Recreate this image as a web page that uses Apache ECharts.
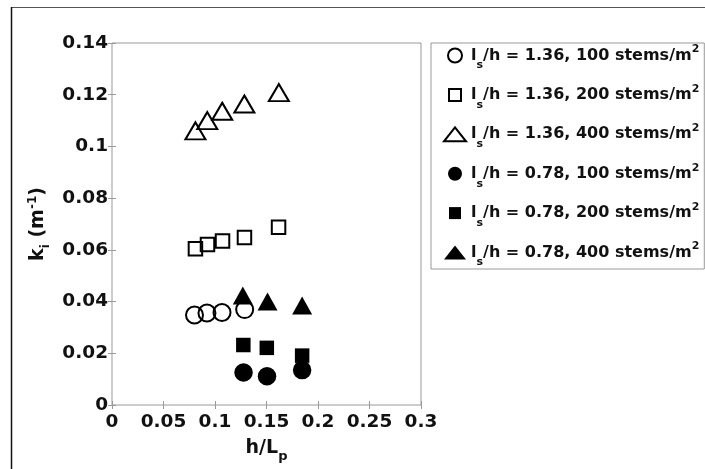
<!DOCTYPE html>
<html>
<head>
<meta charset="utf-8">
<script src="https://cdn.jsdelivr.net/npm/echarts@6/dist/echarts.min.js"></script>
<style>
  html, body { margin: 0; padding: 0; background: #fff; }
  #chart { width: 705px; height: 469px; }
</style>
</head>
<body>
<div id="chart"></div>
<script>
// Attenuation coefficient k_i versus relative depth h/L_p
const xTicks = [0, 0.05, 0.1, 0.15, 0.2, 0.25, 0.3];
const yTicks = [0, 0.02, 0.04, 0.06, 0.08, 0.1, 0.12, 0.14];

// l_s/h = 1.36
const hLp_136_100 = [0.0801, 0.0922, 0.1068, 0.1288];
const ki_136_100  = [0.0348, 0.0356, 0.0358, 0.0369];
const hLp_136_200 = [0.0810, 0.0927, 0.1073, 0.1286, 0.1617];
const ki_136_200  = [0.0604, 0.0621, 0.0634, 0.0648, 0.0687];
const hLp_136_400 = [0.0810, 0.0925, 0.1070, 0.1285, 0.1620];
const ki_136_400  = [0.1060, 0.1100, 0.1136, 0.1164, 0.1208];
// l_s/h = 0.78
const hLp_078_100 = [0.1277, 0.1505, 0.1846];
const ki_078_100  = [0.0126, 0.0111, 0.0135];
const hLp_078_200 = [0.1275, 0.1503, 0.1846];
const ki_078_200  = [0.0232, 0.0221, 0.0191];
const hLp_078_400 = [0.1270, 0.1510, 0.1846];
const ki_078_400  = [0.0423, 0.0400, 0.0385];

const spacingRatios = ['1.36', '1.36', '1.36', '0.78', '0.78', '0.78'];
const stemDensities = ['100', '200', '400', '100', '200', '400'];

const FONT = 'DejaVu Sans';
const seriesData = [
  [hLp_136_100, ki_136_100],
  [hLp_136_200, ki_136_200],
  [hLp_136_400, ki_136_400],
  [hLp_078_100, ki_078_100],
  [hLp_078_200, ki_078_200],
  [hLp_078_400, ki_078_400]
];
const markerKind = ['circle', 'square', 'triangle', 'circle', 'square', 'triangle'];
const filled = [false, false, false, true, true, true];

const symbolSizes = {
  open:   { circle: 17, square: 13.5, triangle: [20, 17] },
  solid:  { circle: 18.5, square: 14.5, triangle: [20, 18] }
};
const squarePath = 'path://M0 0M14 14M1 1L13 1L13 13L1 13Z';

function seriesName(i) {
  return spacingRatios[i] + ', ' + stemDensities[i];
}

function markerStyle(i) {
  return filled[i]
    ? { color: '#000', borderWidth: 0, opacity: 1 }
    : { color: 'rgba(0,0,0,0)', borderColor: '#000', borderWidth: 2, opacity: 1 };
}

const series = seriesData.map(function (pair, i) {
  const kind = markerKind[i];
  const sizes = filled[i] ? symbolSizes.solid : symbolSizes.open;
  return {
    name: seriesName(i),
    type: 'scatter',
    symbol: kind === 'square' ? 'rect' : kind,
    symbolSize: sizes[kind],
    data: pair[0].map(function (x, j) { return [x, pair[1][j]]; }),
    itemStyle: markerStyle(i),
    emphasis: { disabled: true },
    z: 2 + i
  };
});

const legendData = seriesData.map(function (pair, i) {
  const kind = markerKind[i];
  return {
    name: seriesName(i),
    icon: kind === 'square' ? squarePath : kind,
    itemStyle: markerStyle(i)
  };
});

function tickText(v) { return String(parseFloat(v.toFixed(4))); }

const gridBox = { left: 112, right: 284, top: 43, bottom: 64 };
const tickStyle = { show: true, inside: true, length: 4, lineStyle: { color: '#999', width: 1 } };

const chart = echarts.init(document.getElementById('chart'), null, { renderer: 'canvas' });
chart.setOption({
  animation: false,
  backgroundColor: '#fff',
  graphic: [
    { type: 'line', shape: { x1: 11, y1: 7.5, x2: 705, y2: 7.5 }, style: { stroke: '#555', lineWidth: 1 }, silent: true },
    { type: 'line', shape: { x1: 11.5, y1: 7, x2: 11.5, y2: 469 }, style: { stroke: '#111', lineWidth: 1.5 }, silent: true }
  ],
  grid: Object.assign({ show: true, borderColor: '#999', borderWidth: 1, backgroundColor: 'transparent' }, gridBox),
  legend: {
    orient: 'vertical',
    left: 431,
    top: 43,
    selectedMode: false,
    backgroundColor: '#fff',
    borderColor: '#999',
    borderWidth: 1,
    padding: [1, 5, 1, 12],
    itemWidth: 22,
    itemHeight: 14,
    itemGap: 12.4,
    data: legendData,
    formatter: function (name) {
      const parts = name.split(', ');
      return '{m|l}{s|s}{m|/h = ' + parts[0] + ', ' + parts[1] + ' stems/m}{p|2}';
    },
    textStyle: {
      rich: {
        m: { fontFamily: FONT, fontWeight: 'bold', fontSize: 16, color: '#111' },
        s: { fontFamily: FONT, fontWeight: 'bold', fontSize: 11, color: '#111', padding: [20, 0, 0, 0] },
        p: { fontFamily: FONT, fontWeight: 'bold', fontSize: 11, color: '#111', padding: [0, 0, 12, 0] }
      }
    }
  },
  xAxis: [{
    type: 'value',
    min: 0, max: 0.3, interval: 0.05,
    position: 'bottom',
    splitLine: { show: false },
    axisLine: { show: false },
    axisTick: tickStyle,
    axisLabel: {
      fontFamily: FONT, fontWeight: 'bold', fontSize: 18.5, color: '#111', margin: 8,
      formatter: tickText
    },
    name: '{m|h/L}{s|p}',
    nameLocation: 'middle',
    nameGap: 29,
    nameTextStyle: {
      rich: {
        m: { fontFamily: FONT, fontWeight: 'bold', fontSize: 19, color: '#111' },
        s: { fontFamily: FONT, fontWeight: 'bold', fontSize: 13, color: '#111', padding: [16, 0, 0, 0] }
      }
    }
  }, {
    type: 'value',
    min: 0, max: 0.3, interval: 0.05,
    position: 'top',
    splitLine: { show: false },
    axisLine: { show: false },
    axisTick: tickStyle,
    axisLabel: { show: false }
  }],
  yAxis: [{
    type: 'value',
    min: 0, max: 0.14, interval: 0.02,
    position: 'left',
    splitLine: { show: false },
    axisLine: { show: false },
    axisTick: tickStyle,
    axisLabel: {
      fontFamily: FONT, fontWeight: 'bold', fontSize: 18.5, color: '#111', margin: 4,
      formatter: tickText
    },
    name: '{m|k}{s|i}{m| (m}{p|-1}{m|)}',
    nameLocation: 'middle',
    nameGap: 60,
    nameTextStyle: {
      rich: {
        m: { fontFamily: FONT, fontWeight: 'bold', fontSize: 19, color: '#111' },
        s: { fontFamily: FONT, fontWeight: 'bold', fontSize: 12, color: '#111', padding: [16, 0, 0, 0] },
        p: { fontFamily: FONT, fontWeight: 'bold', fontSize: 12, color: '#111', padding: [0, 0, 10, 0] }
      }
    }
  }, {
    type: 'value',
    min: 0, max: 0.14, interval: 0.02,
    position: 'right',
    splitLine: { show: false },
    axisLine: { show: false },
    axisTick: tickStyle,
    axisLabel: { show: false }
  }],
  series: series
});
</script>
</body>
</html>
